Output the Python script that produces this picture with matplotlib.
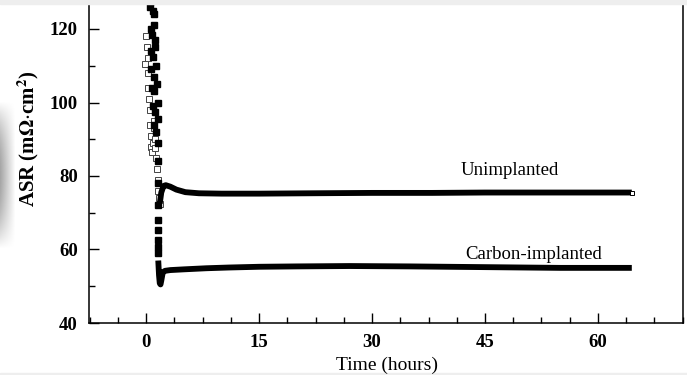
import numpy as np
import matplotlib
matplotlib.use('Agg')
import matplotlib.pyplot as plt
from matplotlib.ticker import MultipleLocator

# unimplanted sample: scattered start (open squares), then settled trend
unimp_early_t = [-0.2, 0.0, 0.1, 0.2, 0.3, 0.3, 0.4, 0.5, 0.5, 0.6, 0.7, 0.8, 0.9,
                 1.0, 1.1, 1.2, 1.2, 1.3, 1.4, 1.5, 1.6, 1.7, 1.8]
unimp_early_v = [110.5, 118.0, 115.0, 112.0, 108.0, 104.0, 101.0, 98.0, 94.0, 91.0,
                 88.0, 86.5, 89.0, 95.0, 93.0, 90.0, 87.5, 85.0, 82.0, 79.0,
                 76.0, 74.0, 72.5]
unimp_t = [1.8, 2.0, 2.3, 2.6, 3.2, 4.0, 5.2, 7.0, 10.0, 15.0, 22.0, 30.0, 38.0,
           45.0, 52.0, 60.0, 64.5]
unimp_v = [72.5, 75.5, 77.3, 77.5, 77.1, 76.3, 75.6, 75.3, 75.2, 75.2, 75.3, 75.4,
           75.4, 75.5, 75.5, 75.5, 75.5]

# carbon-implanted sample
carbon_early_t = [0.5, 0.7, 0.9, 1.1, 0.6, 0.8, 1.0, 1.2, 0.6, 0.9, 1.2, 0.7, 1.0,
                  1.3, 0.8, 1.1, 1.4, 0.9, 1.2, 1.5, 1.0, 1.3, 1.5, 1.5, 1.6, 1.6,
                  1.6, 1.6, 1.6, 1.6, 1.6, 1.6, 0.8, 1.0, 1.2]
carbon_early_v = [126.0, 127.5, 125.0, 124.0, 120.0, 118.5, 121.0, 117.0, 114.0,
                  112.5, 115.0, 109.0, 107.0, 110.0, 104.0, 103.0, 105.0, 99.0,
                  97.5, 100.0, 94.0, 92.0, 95.5, 89.0, 84.0, 78.0, 72.0, 68.0,
                  65.3, 62.6, 60.7, 59.0, 131.0, 133.0, 130.0]
carbon_t = [1.6, 1.7, 1.8, 1.9, 2.0, 2.2, 2.5, 3.2, 5.0, 8.0, 11.0, 15.0, 20.0,
            27.0, 35.0, 45.0, 55.0, 64.5]
carbon_v = [57.0, 53.0, 50.8, 50.5, 51.5, 53.8, 54.2, 54.4, 54.6, 54.9, 55.1, 55.3,
            55.4, 55.5, 55.4, 55.2, 55.0, 55.0]

plt.rcParams['font.family'] = ['Liberation Serif', 'DejaVu Serif']
plt.rcParams['mathtext.fontset'] = 'stix'

W, H = 687, 375
fig = plt.figure(figsize=(W / 100, H / 100), dpi=100)

# scan artefacts: thin grey edges and a soft shadow on the left
fig.patches.append(plt.Rectangle((0, 1 - 4 / H), 1, 4 / H, transform=fig.transFigure,
                                 color='#eeeeee', zorder=0))
fig.patches.append(plt.Rectangle((0, 0), 1, 2 / H, transform=fig.transFigure,
                                 color='#eeeeee', zorder=0))
sh = fig.add_axes([0, 1 - 250 / H, 16 / W, 150 / H])
gy = np.linspace(-1, 1, 60)[:, None]
gx = np.linspace(0, 1, 16)[None, :]
alpha = np.clip(1 - gy ** 2, 0, 1) * (1 - gx) * 0.35
rgba = np.zeros((60, 16, 4))
rgba[..., 3] = alpha
sh.imshow(rgba, aspect='auto', interpolation='bilinear')
sh.axis('off')

ax = fig.add_axes([89 / W, 1 - 323 / H, (683 - 89) / W, 90 * 3.675 / H])

ax.plot(unimp_t, unimp_v, color='k', lw=4.2, solid_capstyle='butt', zorder=3)
ax.plot(carbon_t, carbon_v, color='k', lw=4.2, solid_capstyle='butt', zorder=3)
ax.plot(unimp_early_t, unimp_early_v, ls='none', marker='s', ms=3.8,
        mfc='white', mec='#444444', mew=0.7, zorder=2)
ax.plot(carbon_early_t, carbon_early_v, ls='none', marker='s', ms=3.8,
        mfc='k', mec='k', zorder=4)
ax.plot([unimp_t[-1]], [unimp_v[-1]], ls='none', marker='s', ms=3.2,
        mfc='white', mec='k', mew=0.7, zorder=5)

ax.set_xlim(-7.6, 71.3)
ax.set_ylim(40, 130)
ax.xaxis.set_major_locator(MultipleLocator(15))
ax.xaxis.set_minor_locator(MultipleLocator(3.75))
ax.yaxis.set_major_locator(MultipleLocator(20))
ax.yaxis.set_minor_locator(MultipleLocator(10))
ax.tick_params(which='both', direction='in', top=False, right=False, width=1.0)
ax.tick_params(which='major', length=7, labelsize=13.5)
ax.tick_params(axis='y', which='major', pad=8)
ax.tick_params(axis='x', which='major', pad=8)
ax.tick_params(which='minor', length=4)
for lab in ax.get_xticklabels() + ax.get_yticklabels():
    lab.set_fontweight('bold')
for sp in ax.spines.values():
    sp.set_linewidth(1.1)

fig.text(28 / W, 1 - 139 / H, r'ASR (m$\mathbf{\Omega}$$\cdot$cm$^{\mathbf{2}}$)',
         fontsize=15, fontweight='bold', rotation=90, ha='center', va='center')
fig.text(387 / W, 1 - 370 / H, 'Time (hours)', fontsize=14, ha='center', va='baseline')

ax.text(41.7, 80.3, 'Unimplanted', fontsize=13.5, ha='left', va='baseline')
ax.text(42.4, 57.4, 'Carbon-implanted', fontsize=13.5, ha='left', va='baseline')

fig.savefig('out.png', dpi=100)
